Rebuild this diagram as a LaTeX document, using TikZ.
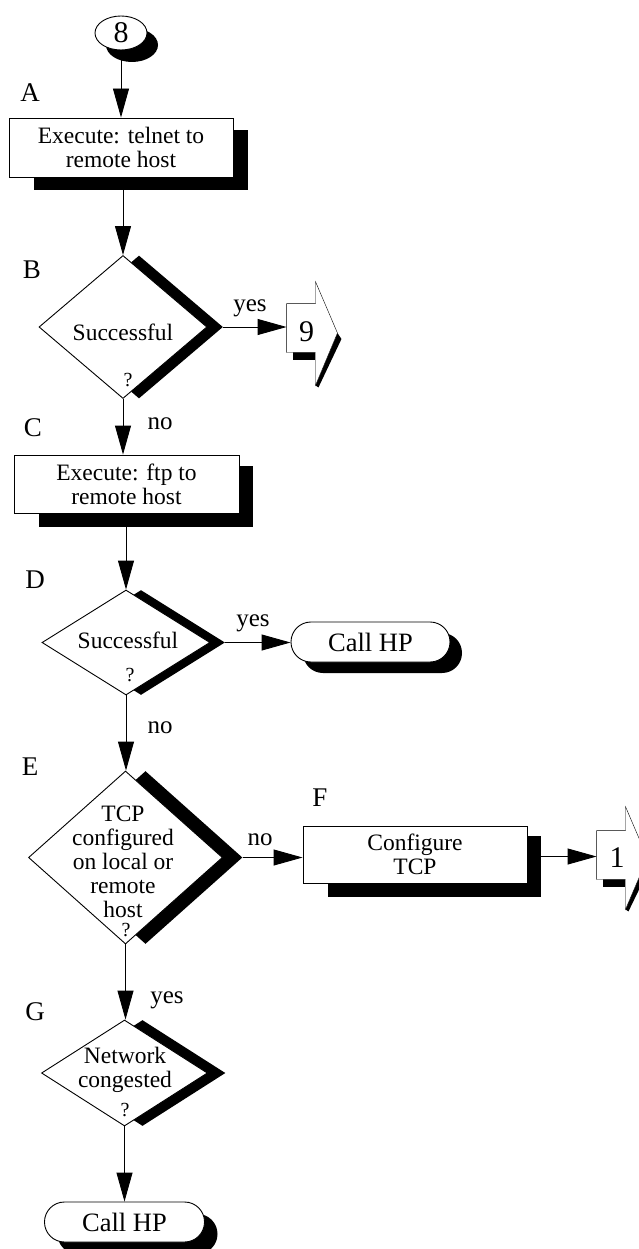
\documentclass[tikz,border=0pt]{standalone}
\usepackage{fontspec}
\setmainfont{Liberation Serif}
\usetikzlibrary{shapes.geometric,shadows,arrows.meta,calc,backgrounds}
\newcommand\fsBody{\fontsize{23.5}{24}\selectfont}
\newcommand\fsLab{\fontsize{27}{27}\selectfont}
\newcommand\fsNum{\fontsize{30}{30}\selectfont}
\newcommand\fsQ{\fontsize{20}{20}\selectfont}
\newcommand\fsYN{\fontsize{25}{25}\selectfont}
\newcommand\fsCall{\fontsize{26.5}{26.5}\selectfont}
\begin{document}
\begin{tikzpicture}[x=1pt,y=-1pt,line width=0.9pt,
  flow/.style={-{Triangle[length=29pt,width=16pt]}},
  procbox/.style={draw,fill=white,rectangle,inner sep=0pt,align=center,font=\fsBody},
  decide/.style={draw,fill=white,diamond,inner sep=0pt},
  txt/.style={inner sep=0pt,align=center,font=\fsBody},
  steplabel/.style={inner sep=0pt,font=\fsLab},
  branch/.style={inner sep=0pt,font=\fsYN},
  qmark/.style={inner sep=0pt,font=\fsQ},
  terminal/.style={draw,fill=white,rectangle,rounded corners=19.9pt,inner sep=0pt,font=\fsCall},
  conn/.style={inner sep=0pt,font=\fsNum},
  boxshadow/.style={fill=black},
]
\useasboundingbox (0,0) rectangle (639,1249);
\clip (0,0) rectangle (639,1249);

% start connector
\node[draw,fill=white,ellipse,minimum width=52pt,minimum height=34pt,inner sep=0pt,font=\fsNum,
  general shadow={fill=black,shadow xshift=11pt,shadow yshift=-12pt}] (n8) at (121,33) {8};

% A
\node[steplabel] (lA) at (30,93) {A};
\node[procbox,minimum width=224pt,minimum height=59pt] (A) at (121,147.5) {Execute: telnet to\\remote host};
\draw[flow] (n8.south) -- (n8.south |- A.north);

% B
\node[steplabel] (lB) at (32,270) {B};
\node[decide,minimum width=168pt,minimum height=143pt,
  general shadow={fill=black,shadow xshift=16pt,shadow yshift=0pt}] (B) at (123,327) {};
\node[txt] (Bt) at (123,332) {Successful};
\node[qmark] (Bq) at (128,380) {?};
\draw[flow] (A.south -| B.north) -- (B.north);
\node[inner sep=0pt,minimum width=28pt,minimum height=48pt] (c9) at (301,328) {};
\node[conn] (c9n) at ($(c9.center)+(5.5,4)$) {9};
\coordinate (Bx) at ($(B.east)+(16,0)$);
\draw[flow] (Bx) -- (Bx -| c9.west);
\node[branch] (yB) at (250,308) {yes};

% C
\node[steplabel] (lC) at (33,428) {C};
\node[procbox,minimum width=225pt,minimum height=58pt] (C) at (126.5,484) {Execute: ftp to\\remote host};
\draw[flow] (B.south) -- (B.south |- C.north);
\node[branch] (nB) at (160,424) {no};

% D
\node[steplabel] (lD) at (35,580) {D};
\node[decide,minimum width=168pt,minimum height=105pt,
  general shadow={fill=black,shadow xshift=15pt,shadow yshift=0pt}] (D) at (126,642.5) {};
\node[txt] (Dt) at (128,640) {Successful};
\node[qmark] (Dq) at (130,675) {?};
\draw[flow] (C.south -| D.north) -- (D.north);
\node[terminal,minimum width=159pt,minimum height=40pt,
  general shadow={fill=black,shadow xshift=12pt,shadow yshift=-11pt}] (H1) at (370.5,642) {Call HP};
\coordinate (Dx) at ($(D.east)+(15,0)$);
\draw[flow] (Dx) -- (Dx -| H1.west);
\node[branch] (yD) at (253,623) {yes};

% E
\node[steplabel] (lE) at (30,767) {E};
\node[decide,minimum width=194pt,minimum height=173pt,
  general shadow={fill=black,shadow xshift=20pt,shadow yshift=0pt}] (E) at (125.5,857.5) {};
\node[txt] (Et) at (123,861.5) {TCP\\configured\\on local or\\remote\\host};
\node[qmark] (Eq) at (126,930) {?};
\draw[flow] (D.south) -- (D.south |- E.north);
\node[branch] (nD) at (160,728) {no};

% F
\node[steplabel] (lF) at (320,798) {F};
\node[procbox,minimum width=224pt,minimum height=57pt] (F) at (415,854.5) {Configure\\TCP};
\coordinate (Ex) at ($(E.east)+(20,0)$);
\draw[flow] (Ex) -- (Ex -| F.west);
\node[branch] (nE) at (260,840) {no};
\node[inner sep=0pt,minimum width=28pt,minimum height=48pt] (c1) at (611,855) {};
\node[conn] (c1n) at ($(c1.center)+(6,3)$) {1};
\coordinate (Fx) at ($(F.east)+(14,2)$);
\draw[flow] (Fx) -- (Fx -| c1.west);

% G
\node[steplabel] (lG) at (35,1012) {G};
\node[decide,minimum width=166pt,minimum height=106pt,
  general shadow={fill=black,shadow xshift=18pt,shadow yshift=0pt}] (G) at (124.5,1073) {};
\node[txt] (Gt) at (125,1069.5) {Network\\congested};
\node[qmark] (Gq) at (125,1110) {?};
\draw[flow] (E.south) -- (E.south |- G.north);
\node[branch] (yE) at (167,1000) {yes};
\node[terminal,minimum width=160pt,minimum height=40pt,
  general shadow={fill=black,shadow xshift=13pt,shadow yshift=-12pt}] (H2) at (124.5,1222) {Call HP};
\draw[flow] (G.south) -- (G.south |- H2.north);

% shadows and off-page outlines behind
\begin{scope}[on background layer]
  \fill[boxshadow] ($(A.south west)+(25,13)$) rectangle ($(A.north east)+(15,12)$);
  \fill[boxshadow] ($(C.south west)+(25,14)$) rectangle ($(C.north east)+(14,11)$);
  \fill[boxshadow] ($(F.south west)+(25,14)$) rectangle ($(F.north east)+(14,10)$);
  % connector 9
  \fill[boxshadow] ($(c9.south west)+(6,0)$) rectangle ($(c9.south east)+(0,8)$);
  \fill[boxshadow] ($(c9.east)+(22,5)$) -- ($(c9.east)+(26,11)$) -- ($(c9.south east)+(3,35)$) -- ($(c9.south east)+(0,33)$) -- cycle;
  \draw[fill=white] (c9.north west) -- (c9.north east) -- ($(c9.north east)+(0,-22)$) -- ($(c9.east)+(22,5)$) -- ($(c9.south east)+(0,33)$) -- (c9.south east) -- (c9.south west) -- cycle;
  % connector 1
  \fill[boxshadow] ($(c1.south west)+(6,0)$) rectangle ($(c1.south east)+(0,8)$);
  \fill[boxshadow] ($(c1.east)+(22,3)$) -- ($(c1.east)+(26,9)$) -- ($(c1.south east)+(3,32)$) -- ($(c1.south east)+(0,30)$) -- cycle;
  \draw[fill=white] (c1.north west) -- (c1.north east) -- ($(c1.north east)+(0,-24)$) -- ($(c1.east)+(22,3)$) -- ($(c1.south east)+(0,30)$) -- (c1.south east) -- (c1.south west) -- cycle;
\end{scope}
\end{tikzpicture}
\end{document}
